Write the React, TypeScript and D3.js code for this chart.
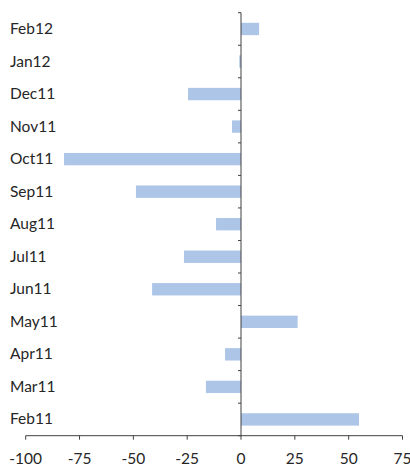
import React from "react";
import * as d3 from "d3";

const categories = ["Feb11","Mar11","Apr11","May11","Jun11","Jul11","Aug11","Sep11","Oct11","Nov11","Dec11","Jan12","Feb12"];
const values = [54.8,-16.3,-7.4,26.3,-41.3,-26.5,-11.6,-48.8,-82.2,-4.2,-24.6,-0.8,8.4];
const xTicks = [-100,-75,-50,-25,0,25,50,75];

export default function App() {
  const W = 410, H = 476;
  const left = 25.7, right = 402.5, top = 12.7, bottom = 435.7;
  const x = d3.scaleLinear().domain([-100, 75]).range([left, right]);
  const y = d3.scaleBand<string>().domain([...categories].reverse()).range([top, bottom]).paddingInner(0.62).paddingOuter(0.31);
  const band = d3.scaleBand<string>().domain([...categories].reverse()).range([top, bottom]);
  const axisColor = "#404040";
  const textColor = "#262626";
  const boundaries = d3.range(categories.length + 1).map(i => top + i * band.step());
  return (
    <svg width={W} height={H} style={{ position: "absolute", left: 0, top: 0 }}>
      {categories.map((c, i) => {
        const v = values[i];
        return (
          <rect key={c} x={Math.min(x(0), x(v))} y={y(c)!} width={Math.abs(x(v) - x(0))} height={y.bandwidth()} fill="#adc5e7" />
        );
      })}
      {categories.map(c => (
        <text key={c} x={10} y={band(c)! + band.bandwidth() / 2 + 5} fontFamily="Lato" fontSize={15.5} fill={textColor}>{c}</text>
      ))}
      <line x1={x(0)} x2={x(0)} y1={top} y2={bottom} stroke={axisColor} strokeWidth={1} />
      {boundaries.map((b, i) => (
        <line key={i} x1={x(0) - 3} x2={x(0)} y1={b} y2={b} stroke={axisColor} strokeWidth={1} />
      ))}
      <line x1={left} x2={right} y1={bottom} y2={bottom} stroke={axisColor} strokeWidth={1} />
      {xTicks.map(t => (
        <g key={t}>
          <line x1={x(t)} x2={x(t)} y1={bottom} y2={bottom + 4} stroke={axisColor} strokeWidth={1} />
          <text x={x(t)} y={bottom + 28} textAnchor="middle" fontFamily="Lato" fontSize={15.5} fill={textColor}>{t}</text>
        </g>
      ))}
    </svg>
  );
}
